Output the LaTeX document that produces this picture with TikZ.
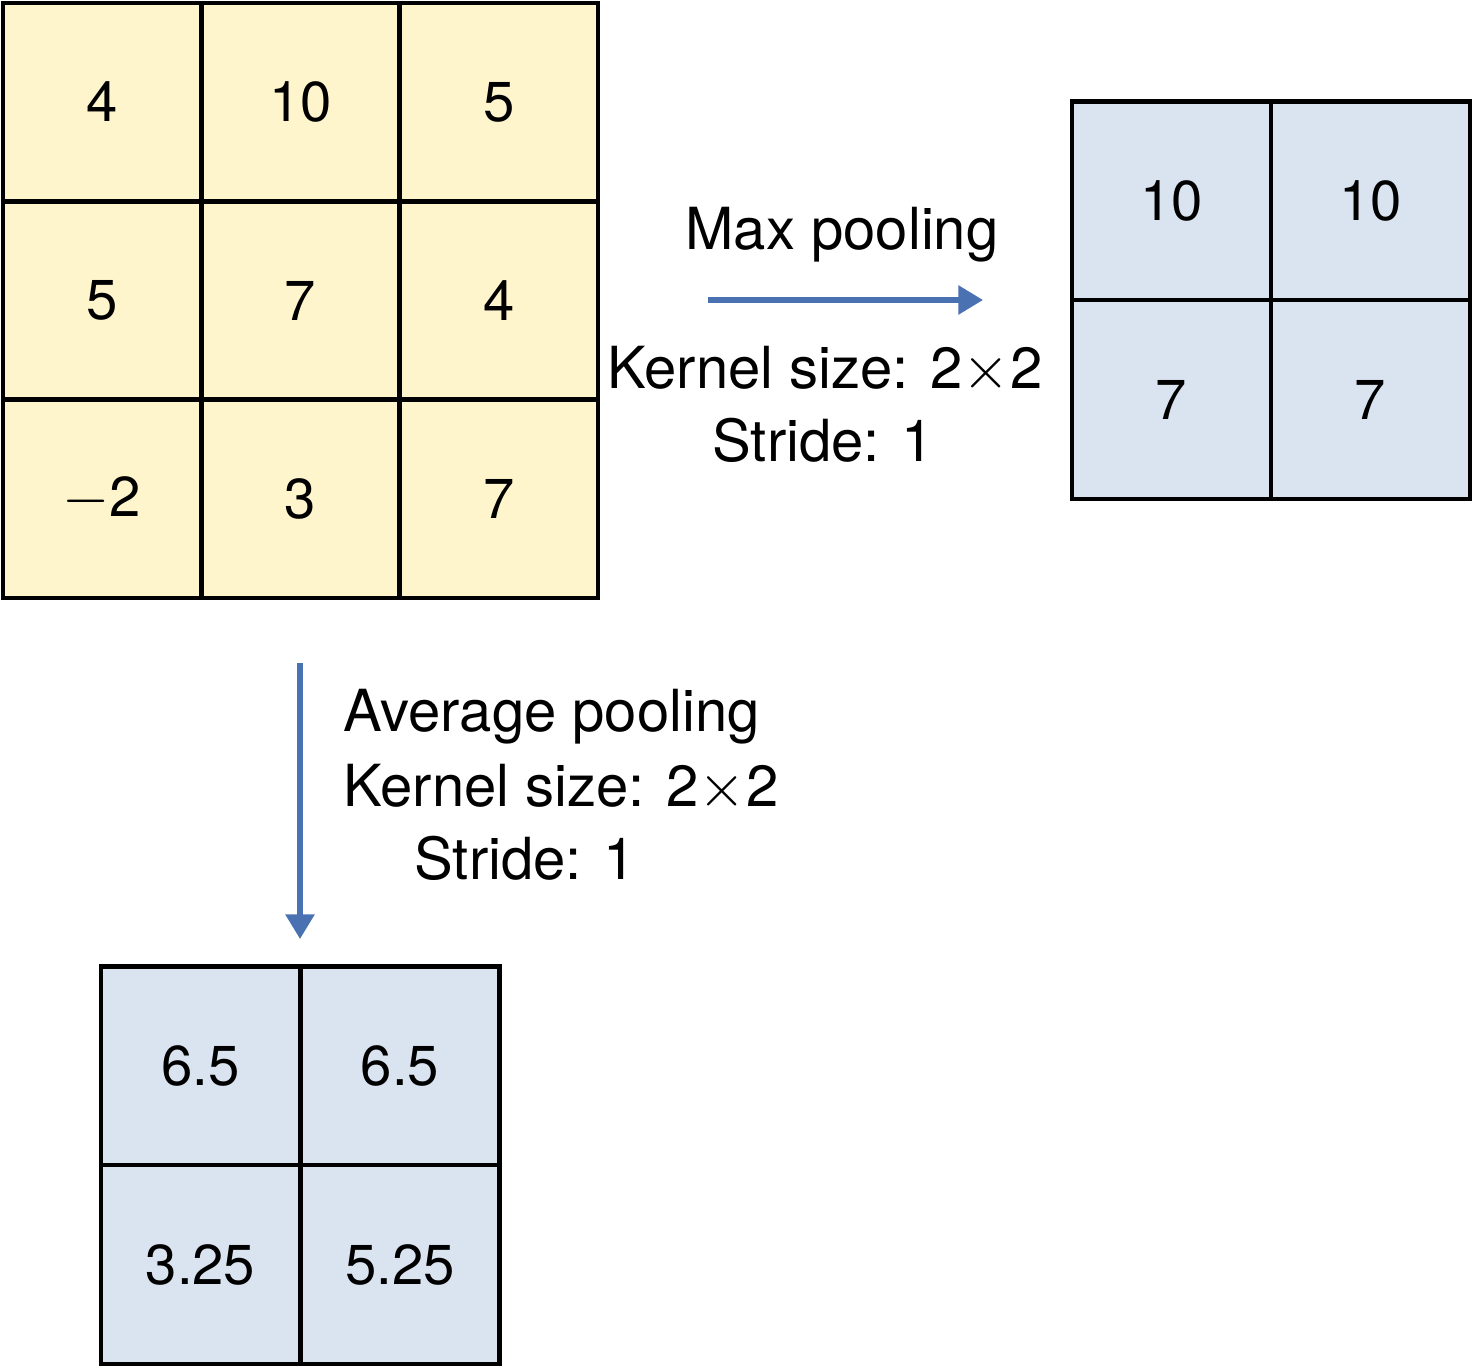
\documentclass[tikz,border=0pt]{standalone}
\usepackage{fontspec}
\setmainfont{TeX Gyre Heros}
\usetikzlibrary{arrows.meta}
\definecolor{yel}{HTML}{FFF5CC}
\definecolor{blu}{HTML}{DAE3F0}
\definecolor{arr}{HTML}{4A72B2}
\tikzset{
 cellY/.style={draw=black,line width=1.2pt,fill=yel,minimum size=1.98cm,inner sep=0pt,font=\fontsize{16}{19}\selectfont},
 cellB/.style={draw=black,line width=1.2pt,fill=blu,minimum size=1.99cm,inner sep=0pt,font=\fontsize{16}{19}\selectfont},
 lbl/.style={font=\fontsize{16.5}{20}\selectfont,inner sep=0pt},
 arrw/.style={draw=arr,line width=1.5pt,-{Triangle[length=7pt,width=8pt]}}
}
\begin{document}
\begin{tikzpicture}[x=0.01cm,y=-0.01cm]
\useasboundingbox (0,0) rectangle (1473,1367);
% input grid
\foreach \v [count=\i from 0] in {4,10,5,5,7,4,{$-$2},3,7}{
  \pgfmathtruncatemacro\c{mod(\i,3)}
  \pgfmathtruncatemacro\r{div(\i,3)}
  \node[cellY] (in\i) at ({102+198.5*\c},{102+198.5*\r}) {\v};
}
% max pooling output
\foreach \v [count=\i from 0] in {10,10,7,7}{
  \pgfmathtruncatemacro\c{mod(\i,2)}
  \pgfmathtruncatemacro\r{div(\i,2)}
  \node[cellB] (mx\i) at ({1171.5+199*\c},{201+198.5*\r}) {\v};
}
% average pooling output
\foreach \v [count=\i from 0] in {6.5,6.5,3.25,5.25}{
  \pgfmathtruncatemacro\c{mod(\i,2)}
  \pgfmathtruncatemacro\r{div(\i,2)}
  \node[cellB] (av\i) at ({200.5+199.5*\c},{1066+198.5*\r}) {\v};
}
\coordinate (a1) at (708,300);
\coordinate (a2) at (983,300);
\draw[arrw] (a1) -- (a2);
\node[lbl] (t1) at (842,235) {Max pooling};
\node[lbl] (t2) at (825,370) {Kernel size: 2$\times$2};
\node[lbl] (t3) at (823,440) {Stride: 1};
\coordinate (b1) at (300,663);
\coordinate (b2) at (300,939);
\draw[arrw] (b1) -- (b2);
\node[lbl,anchor=west] (u1) at (343,717) {Average pooling};
\node[lbl,anchor=west] (u2) at (343,788) {Kernel size: 2$\times$2};
\node[lbl] (u3) at (525,858) {Stride: 1};
\end{tikzpicture}
\end{document}
